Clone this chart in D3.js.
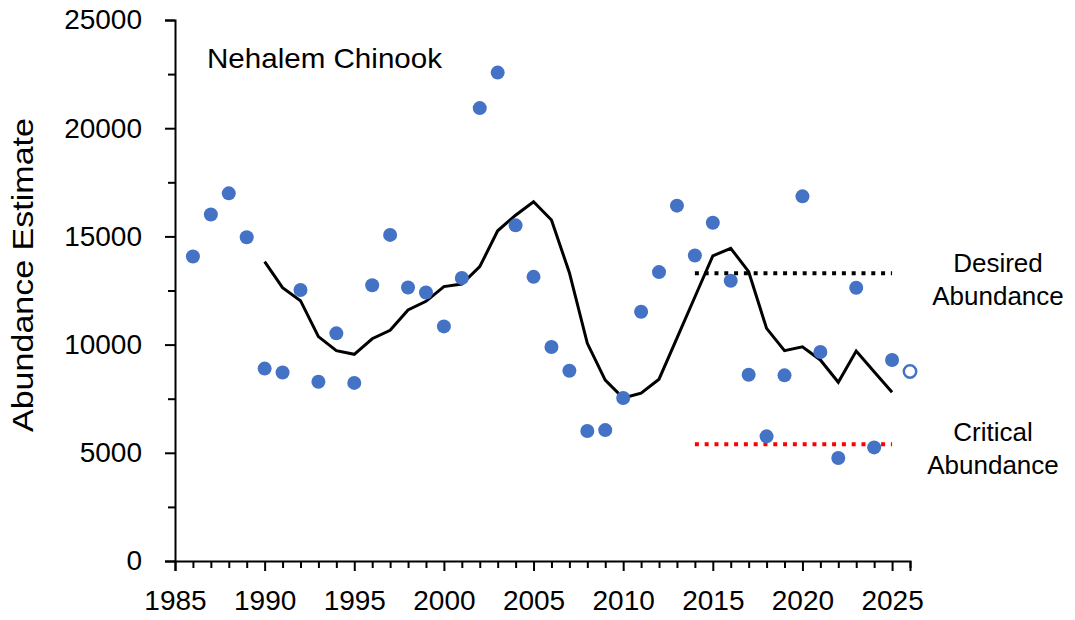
<!DOCTYPE html>
<html>
<head>
<meta charset="utf-8">
<script src="https://cdn.jsdelivr.net/npm/d3@7"></script>
<style>
  body { margin: 0; background: #fff; }
  svg text { font-family: "Liberation Sans", Arial, sans-serif; fill: #000; }
</style>
</head>
<body>
<svg id="chart" width="1075" height="620"></svg>
<script>
'use strict';

// annual estimates (filled dots)
var years = [1986, 1987, 1988, 1989, 1990, 1991, 1992, 1993, 1994, 1995,
             1996, 1997, 1998, 1999, 2000, 2001, 2002, 2003, 2004, 2005,
             2006, 2007, 2008, 2009, 2010, 2011, 2012, 2013, 2014, 2015,
             2016, 2017, 2018, 2019, 2020, 2021, 2022, 2023, 2024, 2025];
var estimates = [14070, 16010, 16990, 14960, 8890, 8710, 12520, 8280, 10520, 8230,
                 12740, 15070, 12640, 12410, 10840, 13080, 20930, 22570, 15510, 13130,
                 9890, 8790, 6010, 6050, 7530, 11520, 13350, 16420, 14120, 15630,
                 12950, 8610, 5760, 8580, 16850, 9660, 4760, 12630, 5250, 9290];

// forecast (open dot)
var forecastYear = 2026;
var forecastValue = 8760;

// running average (black line)
var avgYears = d3.range(1990, 2026);
var avgValues = [13830, 12630, 12030, 10370, 9720, 9550, 10270, 10660, 11600, 12000,
                 12680, 12800, 13600, 15260, 15980, 16600, 15760, 13320, 10060, 8360,
                 7530, 7760, 8400, 10300, 12200, 14100, 14450, 13370, 10750, 9720,
                 9900, 9290, 8260, 9700, 8750, 7800];

// reference levels
var desired = { label: ["Desired", "Abundance"], value: 13300, from: 2014, to: 2025 };
var critical = { label: ["Critical", "Abundance"], value: 5400, from: 2014, to: 2025 };

var yTicks = d3.range(0, 25001, 2500);
var xTicks = d3.range(1985, 2027);

var svg = d3.select("#chart");
var x = d3.scaleLinear().domain([1985, 2026]).range([175, 910]);
var y = d3.scaleLinear().domain([0, 25000]).range([561, 20]);

var blue = "#4472C4";

// y axis
var yAxis = svg.append("g")
    .attr("transform", "translate(175,0)")
    .call(d3.axisLeft(y)
        .tickValues(yTicks)
        .tickSizeOuter(0)
        .tickSize(10)
        .tickPadding(23)
        .tickFormat(function (d) { return d % 5000 === 0 ? d : ""; }));
yAxis.selectAll(".tick line")
    .attr("x2", function (d) { return d % 5000 === 0 ? -10 : -7; });

// x axis
var xAxis = svg.append("g")
    .attr("transform", "translate(0,561)")
    .call(d3.axisBottom(x)
        .tickValues(xTicks)
        .tickSizeOuter(0)
        .tickSize(10)
        .tickFormat(function (d) { return d % 5 === 0 ? d : ""; }));
xAxis.selectAll(".tick line")
    .attr("y2", function (d) { return d % 5 === 0 ? 10 : 7; });
xAxis.selectAll(".tick text").attr("y", 29);

svg.selectAll(".domain, .tick line")
    .attr("stroke", "#000")
    .attr("stroke-width", 2);
svg.selectAll(".tick text")
    .attr("font-size", 28)
    .attr("fill", "#000")
    .style("font-family", "'Liberation Sans', Arial, sans-serif");

// axis title
svg.append("text")
    .attr("transform", "translate(33,275) rotate(-90)")
    .attr("text-anchor", "middle")
    .attr("font-size", 29)
    .attr("textLength", 314)
    .attr("lengthAdjust", "spacingAndGlyphs")
    .text("Abundance Estimate");

// chart label
svg.append("text")
    .attr("x", 207)
    .attr("y", 68)
    .attr("font-size", 28)
    .attr("textLength", 235)
    .attr("lengthAdjust", "spacingAndGlyphs")
    .text("Nehalem Chinook");

// reference lines
function refLine(ref, color, labelX, labelY) {
    svg.append("line")
        .attr("x1", x(ref.from))
        .attr("x2", x(ref.to))
        .attr("y1", y(ref.value))
        .attr("y2", y(ref.value))
        .attr("stroke", color)
        .attr("stroke-width", 4)
        .attr("stroke-dasharray", "4,5.8");

    svg.append("text")
        .attr("x", labelX)
        .attr("y", labelY)
        .attr("text-anchor", "middle")
        .attr("font-size", 26)
        .selectAll("tspan")
        .data(ref.label)
        .enter()
        .append("tspan")
        .attr("x", labelX)
        .attr("dy", function (d, i) { return i === 0 ? 0 : 33; })
        .text(function (d) { return d; });
}
refLine(desired, "#000", 998, 272);
refLine(critical, "#FF0000", 993, 441);

// running average line
var line = d3.line()
    .x(function (d, i) { return x(avgYears[i]); })
    .y(function (d) { return y(d); });

svg.append("path")
    .datum(avgValues)
    .attr("fill", "none")
    .attr("stroke", "#000")
    .attr("stroke-width", 3)
    .attr("stroke-linejoin", "miter")
    .attr("d", line);

// annual dots
svg.append("g")
    .selectAll("circle")
    .data(estimates)
    .enter()
    .append("circle")
    .attr("cx", function (d, i) { return x(years[i]); })
    .attr("cy", function (d) { return y(d); })
    .attr("r", 7)
    .attr("fill", blue);

// forecast dot
svg.append("circle")
    .attr("cx", x(forecastYear))
    .attr("cy", y(forecastValue))
    .attr("r", 6.2)
    .attr("fill", "#fff")
    .attr("stroke", blue)
    .attr("stroke-width", 2.5);
</script>
</body>
</html>
